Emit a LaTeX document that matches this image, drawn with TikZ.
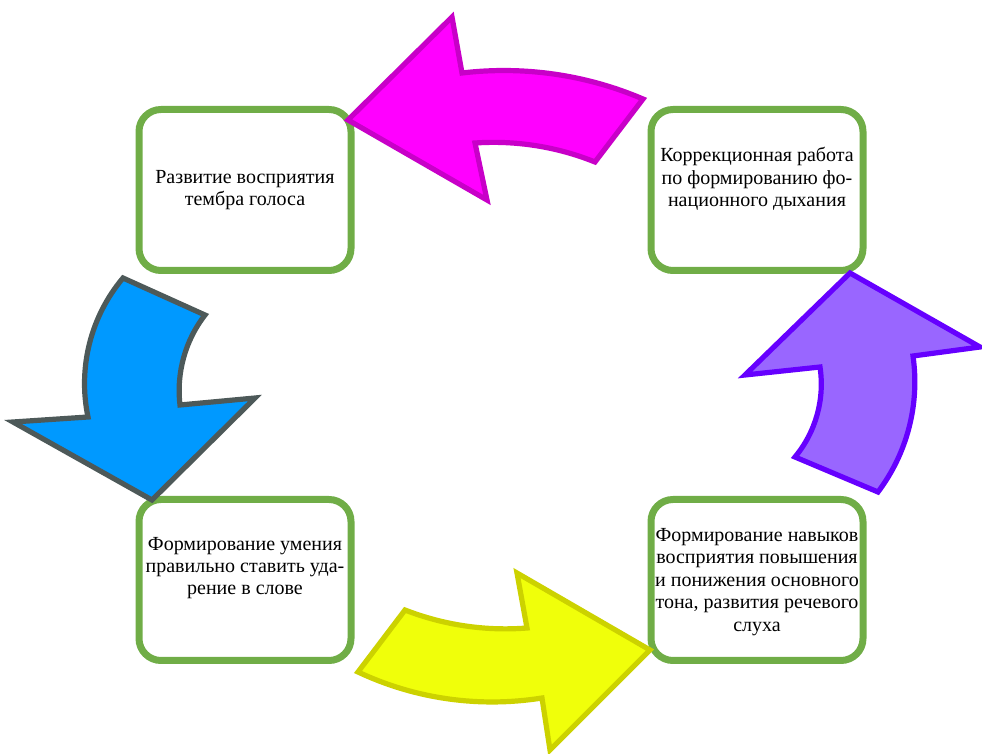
\documentclass[tikz,border=0pt]{standalone}
\usepackage{fontspec}
\setmainfont{Liberation Serif}
\definecolor{boxgreen}{RGB}{112,173,71}
\definecolor{magfill}{RGB}{255,0,255}
\definecolor{magline}{RGB}{200,0,200}
\definecolor{purfill}{RGB}{153,102,255}
\definecolor{purline}{RGB}{102,0,255}
\definecolor{bluefill}{RGB}{0,153,255}
\definecolor{blueline}{RGB}{77,89,89}
\definecolor{yelfill}{RGB}{240,255,10}
\definecolor{yelline}{RGB}{204,210,0}
\begin{document}
\begin{tikzpicture}[x=0.5pt, y=-0.5pt,
box/.style = {rectangle, draw=boxgreen, line width=3.5pt, rounded corners=11pt,
  minimum width=106pt, minimum height=80.5pt},
txt/.style = {align=center, inner sep=0pt, font=\fontsize{10}{11.2}\selectfont},
cyclearrow/.style = {line width=2.6pt, line join=miter}]
\useasboundingbox (0,0) rectangle (982,754);
\node[box] at (245,190) (b1) {};
\node[box] at (757,190) (b2) {};
\node[box] at (245,580) (b3) {};
\node[box] at (757,580) (b4) {};
\node[txt] at (b1.center) [yshift=0pt] (t1) {Развитие восприятия\\тембра голоса};
\node[txt] at (b2.center) [yshift=5.5pt] (t2) {Коррекционная работа\\по формированию фо-\\национного дыхания};
\node[txt] at (b3.center) [yshift=6pt] (t3) {Формирование умения\\правильно ставить уда-\\рение в слове};
\node[txt] at (b4.center) [yshift=-1pt] (t4) {Формирование навыков\\восприятия повышения\\и понижения основного\\тона, развития речевого\\слуха};
% cycle arrows
\filldraw[cyclearrow, fill=magfill, draw=magline] (348,120) -- (452,17) -- (462,73)
  .. controls (523.6,65.7) and (586,74.6) .. (643,99) -- (595,162)
  .. controls (557,146.7) and (515.9,140.2) .. (475,143) -- (487,200) -- cycle;
\filldraw[cyclearrow, fill=purfill, draw=purline] (850,273) -- (980,347) -- (913,356)
  .. controls (919.9,404.2) and (907.3,453.1) .. (878,492) -- (795,457)
  .. controls (815.8,432) and (824.9,399.2) .. (820,367) -- (745,375) -- cycle;
\filldraw[cyclearrow, fill=bluefill, draw=blueline] (152,500) -- (13,422) -- (88,417)
  .. controls (77.7,367.8) and (90.6,316.5) .. (123,278) -- (205,315)
  .. controls (185.2,340.5) and (176.2,372.9) .. (180,405) -- (255,398) -- cycle;
\filldraw[cyclearrow, fill=yelfill, draw=yelline] (650,650) -- (550,750) -- (542,698)
  .. controls (479.5,708) and (415.3,699) .. (358,672) -- (405,610)
  .. controls (443.8,625.1) and (485.5,631.3) .. (527,628) -- (517,573) -- cycle;
\end{tikzpicture}
\end{document}
